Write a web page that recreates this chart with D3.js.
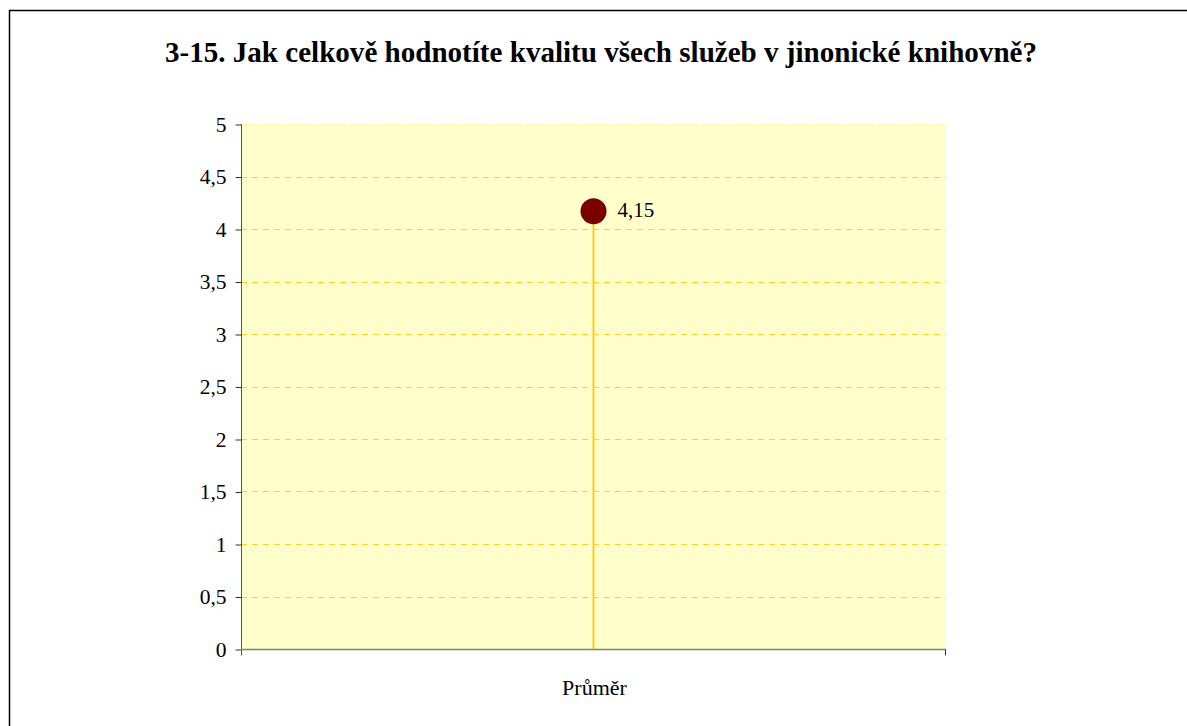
<!DOCTYPE html>
<html lang="cs">
<head>
  <meta charset="UTF-8">
  <title>3-15</title>
  <script src="https://d3js.org/d3.v7.min.js"></script>
  <style>
    body { margin: 0; background: #fff; }
    text { font-family: "Liberation Serif", "Times New Roman", serif; fill: #000; }
  </style>
</head>
<body>
<svg id="chart" width="1187" height="726"></svg>
<script>
const title = "3-15. Jak celkově hodnotíte kvalitu všech služeb v jinonické knihovně?";
const categories = ["Průměr"];
const values = [4.15];
const yTicks = [0, 0.5, 1, 1.5, 2, 2.5, 3, 3.5, 4, 4.5, 5];

const svg = d3.select("#chart");
const fmt = d => String(d).replace(".", ",");

// outer frame (runs off the right and bottom edges)
svg.append("rect")
    .attr("x", 9.5).attr("y", 10.5)
    .attr("width", 1300).attr("height", 800)
    .attr("fill", "none").attr("stroke", "#000").attr("stroke-width", 1.5);

svg.append("text")
    .attr("x", 601).attr("y", 62)
    .attr("text-anchor", "middle")
    .style("font-size", "29px").style("font-weight", "bold")
    .attr("textLength", 872).attr("lengthAdjust", "spacingAndGlyphs")
    .text(title);

const m = { left: 241, right: 946, top: 124, bottom: 649 };

const x = d3.scaleBand().domain(categories).range([m.left, m.right]);
const y = d3.scaleLinear().domain([0, 5]).range([m.bottom, m.top]);

svg.append("rect")
    .attr("x", m.left).attr("y", m.top)
    .attr("width", m.right - m.left).attr("height", m.bottom - m.top)
    .attr("fill", "#ffffcc");

// gridlines
svg.append("g")
  .selectAll("line")
  .data(yTicks.filter(d => d > 0))
  .join("line")
    .attr("x1", m.left).attr("x2", m.right)
    .attr("y1", d => Math.round(y(d)) + 0.5).attr("y2", d => Math.round(y(d)) + 0.5)
    .attr("stroke", d => d === 5 ? "#fff3a8" : "#ffd21f")
    .attr("stroke-width", 1)
    .attr("stroke-dasharray", "6,5");

// y axis
const yAxis = svg.append("g")
    .attr("transform", `translate(${m.left + 0.5},0.5)`)
    .call(d3.axisLeft(y).tickValues(yTicks).tickFormat(fmt).tickSize(6).tickPadding(9));
yAxis.select(".domain").attr("stroke", "#555").attr("d", `M0,${m.top}V${m.bottom + 6}`);
yAxis.selectAll(".tick line").attr("stroke", "#333");
yAxis.selectAll(".tick text")
    .style("font-size", "21.5px")
    .style("font-family", "'Liberation Serif', serif")
    .attr("fill", "#000");

// x axis
const xAxis = svg.append("g")
    .attr("transform", `translate(0,${m.bottom + 0.5})`);
xAxis.append("line")
    .attr("x1", m.left).attr("x2", m.right)
    .attr("stroke", "#7f7f6a").attr("stroke-width", 1.5);
xAxis.append("line")
    .attr("x1", m.right - 0.5).attr("x2", m.right - 0.5)
    .attr("y1", 0).attr("y2", 6)
    .attr("stroke", "#333");
xAxis.selectAll("text.cat")
  .data(categories)
  .join("text")
    .attr("class", "cat")
    .attr("x", d => x(d) + x.bandwidth() / 2 + 1)
    .attr("y", 45)
    .attr("text-anchor", "middle")
    .style("font-size", "22px")
    .text(d => d);

// drop line + marker
const pts = categories.map((c, i) => ({ c, v: values[i] }));
svg.append("g")
  .selectAll("line")
  .data(pts)
  .join("line")
    .attr("x1", d => x(d.c) + x.bandwidth() / 2).attr("x2", d => x(d.c) + x.bandwidth() / 2)
    .attr("y1", d => y(d.v)).attr("y2", m.bottom)
    .attr("stroke", "#ffcc1a").attr("stroke-width", 2);

svg.append("g")
  .selectAll("circle")
  .data(pts)
  .join("circle")
    .attr("cx", d => x(d.c) + x.bandwidth() / 2)
    .attr("cy", d => y(d.v) - 2)
    .attr("r", 13)
    .attr("fill", "#7a0000");

svg.append("g")
  .selectAll("text")
  .data(pts)
  .join("text")
    .attr("x", d => x(d.c) + x.bandwidth() / 2 + 24)
    .attr("y", d => y(d.v) + 4)
    .style("font-size", "21px")
    .text(d => fmt(d.v));
</script>
</body>
</html>
